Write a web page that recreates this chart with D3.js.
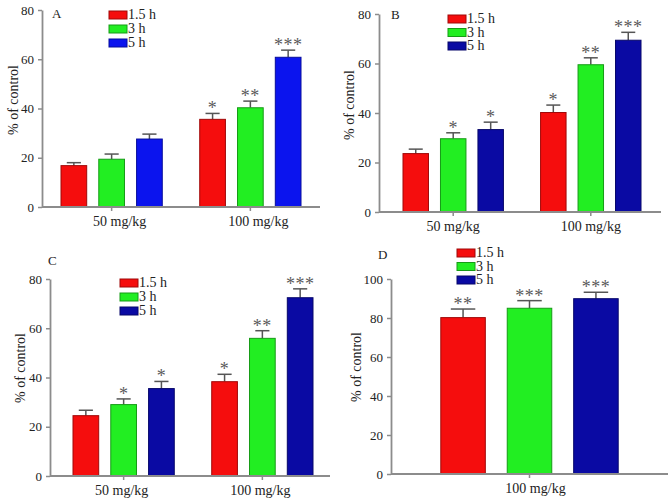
<!DOCTYPE html>
<html>
<head>
<meta charset="utf-8">
<script src="https://cdn.jsdelivr.net/npm/d3@7"></script>
<style>
  html, body { margin: 0; padding: 0; background: #fff; }
  svg { display: block; }
</style>
</head>
<body>
<div id="chart"></div>
<script>
// categories
const times = ["1.5 h", "3 h", "5 h"];
const dosesABC = ["50 mg/kg", "100 mg/kg"];
const dosesD = ["100 mg/kg"];

// panel A
const meansA = [[16.8, 19.4, 27.6], [35.6, 40.3, 60.8]];
const errsA = [[1.2, 2.1, 2.0], [2.4, 2.7, 2.9]];
const starsA = [["", "", ""], ["*", "**", "***"]];

// panel B
const meansB = [[23.6, 29.6, 33.3], [40.2, 59.5, 69.4]];
const errsB = [[1.8, 2.4, 3.0], [3.0, 2.8, 3.2]];
const starsB = [["", "*", "*"], ["*", "**", "***"]];

// panel C
const meansC = [[24.5, 29.0, 35.5], [38.3, 55.9, 72.4]];
const errsC = [[2.2, 2.3, 2.9], [3.0, 3.1, 3.6]];
const starsC = [["", "*", "*"], ["*", "**", "***"]];

// panel D
const meansD = [[80.2, 85.0, 89.9]];
const errsD = [[4.4, 3.9, 3.3]];
const starsD = [["**", "***", "***"]];

const ticksABC = [0, 20, 40, 60, 80];
const ticksD = [0, 20, 40, 60, 80, 100];

const FONT = "'Liberation Serif', 'Times New Roman', serif";
const AXIS_COLOR = "#8c8c8c";

const width = 672, height = 501;
const svg = d3.select("#chart").append("svg")
    .attr("width", width)
    .attr("height", height)
    .attr("font-family", FONT);

// layout per panel (pixel boxes only)
const panels = [
    { id: "A", doses: dosesABC, means: meansA, errs: errsA, stars: starsA, ticks: ticksABC, yMax: 80,
      axisX: [42, 320], barX: [61, 301], y: [207, 10], labelDx: 8,
      letter: [52, 18], legend: [109, 11], legendStep: 14, ylab: [13, 100],
      colors: ["#f50d0d", "#22ee22", "#0b14ee"] },
    { id: "B", doses: dosesABC, means: meansB, errs: errsB, stars: starsB, ticks: ticksABC, yMax: 80,
      axisX: [379, 661], barX: [403, 641], y: [212, 14], labelDx: 0,
      letter: [391, 19], legend: [448, 15], legendStep: 13.5, ylab: [349, 105],
      colors: ["#f50d0d", "#22ee22", "#0a0aa3"] },
    { id: "C", doses: dosesABC, means: meansC, errs: errsC, stars: starsC, ticks: ticksABC, yMax: 80,
      axisX: [50, 330], barX: [73, 313], y: [476, 279], labelDx: -2,
      letter: [48, 265], legend: [120, 279], legendStep: 14, ylab: [20, 368],
      colors: ["#f50d0d", "#22ee22", "#0a0aa3"] },
    { id: "D", doses: dosesD, means: meansD, errs: errsD, stars: starsD, ticks: ticksD, yMax: 100,
      axisX: [391, 668], barX: [408, 651], y: [474, 279], labelDx: 6,
      letter: [378, 259], legend: [457, 249], legendStep: 13.5, ylab: [356, 367],
      colors: ["#f50d0d", "#22ee22", "#0a0aa3"] }
];

panels.forEach(p => drawPanel(p));

function drawPanel(p) {
    const g = svg.append("g");

    const yScale = d3.scaleLinear().domain([0, p.yMax]).range(p.y);

    const x0 = d3.scaleBand()
        .domain(p.doses)
        .range(p.barX)
        .paddingInner(0.27)
        .paddingOuter(0);

    const x1 = d3.scaleBand()
        .domain(times)
        .range([0, x0.bandwidth()])
        .paddingInner(p.doses.length === 1 ? 0.33 : 0.32)
        .paddingOuter(0);

    const color = d3.scaleOrdinal().domain(times).range(p.colors);

    // bars
    p.doses.forEach((dose, gi) => {
        const grp = g.append("g").attr("transform", `translate(${x0(dose)},0)`);
        times.forEach((t, ti) => {
            const v = p.means[gi][ti];
            const e = p.errs[gi][ti];
            const bx = x1(t);
            const bw = x1.bandwidth();
            const cx = bx + bw / 2;

            // error bar (upper only)
            const capW = bw * 0.55;
            grp.append("line")
                .attr("x1", cx).attr("x2", cx)
                .attr("y1", yScale(v)).attr("y2", yScale(v + e))
                .attr("stroke", "#555").attr("stroke-width", 1.5);
            grp.append("line")
                .attr("x1", cx - capW / 2).attr("x2", cx + capW / 2)
                .attr("y1", yScale(v + e)).attr("y2", yScale(v + e))
                .attr("stroke", "#555").attr("stroke-width", 1.5);

            grp.append("rect")
                .attr("x", bx)
                .attr("y", yScale(v))
                .attr("width", bw)
                .attr("height", yScale(0) - yScale(v))
                .attr("fill", color(t))
                .attr("stroke", d3.color(color(t)).darker(1.2))
                .attr("stroke-width", 1);

            const s = p.stars[gi][ti];
            if (s) {
                grp.append("text")
                    .attr("x", cx)
                    .attr("y", yScale(v + e) + 1)
                    .attr("text-anchor", "middle")
                    .attr("font-family", FONT)
                    .attr("font-size", "18px")
                    .attr("fill", "#5a5a5a")
                    .attr("letter-spacing", "0.5px")
                    .text(s);
            }
        });
    });

    // y axis
    const yAxis = d3.axisLeft(yScale)
        .tickValues(p.ticks)
        .tickSize(4)
        .tickSizeOuter(0)
        .tickPadding(4);
    const ya = g.append("g")
        .attr("transform", `translate(${p.axisX[0]},0)`)
        .call(yAxis)
        .attr("font-family", FONT);
    ya.select(".domain").attr("stroke", AXIS_COLOR).attr("stroke-width", 1.8);
    ya.selectAll(".tick line").attr("stroke", AXIS_COLOR).attr("stroke-width", 1.5);
    ya.selectAll(".tick text")
        .attr("font-size", "13px")
        .attr("fill", "#222");

    // x axis line
    g.append("line")
        .attr("x1", p.axisX[0]).attr("x2", p.axisX[1])
        .attr("y1", yScale(0)).attr("y2", yScale(0))
        .attr("stroke", AXIS_COLOR).attr("stroke-width", 1.8);

    const xAxis = d3.axisBottom(x0).tickSize(4).tickSizeOuter(0).tickPadding(5);
    const xa = g.append("g")
        .attr("transform", `translate(0,${yScale(0)})`)
        .call(xAxis)
        .attr("font-family", FONT);
    xa.select(".domain").remove();
    xa.selectAll(".tick line").attr("stroke", AXIS_COLOR).attr("stroke-width", 1.5);
    xa.selectAll(".tick text")
        .attr("font-size", "14px")
        .attr("fill", "#222")
        .attr("dx", p.labelDx);

    // y label
    g.append("text")
        .attr("transform", `translate(${p.ylab[0]},${p.ylab[1]}) rotate(-90)`)
        .attr("text-anchor", "middle")
        .attr("dy", "0.35em")
        .attr("font-size", "14px")
        .attr("fill", "#222")
        .text("% of control");

    // panel letter
    g.append("text")
        .attr("x", p.letter[0]).attr("y", p.letter[1])
        .attr("font-size", "13px")
        .attr("fill", "#222")
        .text(p.id);

    // legend
    const lg = g.append("g").attr("transform", `translate(${p.legend[0]},${p.legend[1]})`);
    times.forEach((t, i) => {
        lg.append("rect")
            .attr("x", 0).attr("y", i * p.legendStep)
            .attr("width", 18).attr("height", 8)
            .attr("fill", color(t))
            .attr("stroke", d3.color(color(t)).darker(1.2))
            .attr("stroke-width", 1);
        lg.append("text")
            .attr("x", 19).attr("y", i * p.legendStep + 8)
            .attr("font-size", "14px")
            .attr("fill", "#222")
            .text(t);
    });
}
</script>
</body>
</html>
